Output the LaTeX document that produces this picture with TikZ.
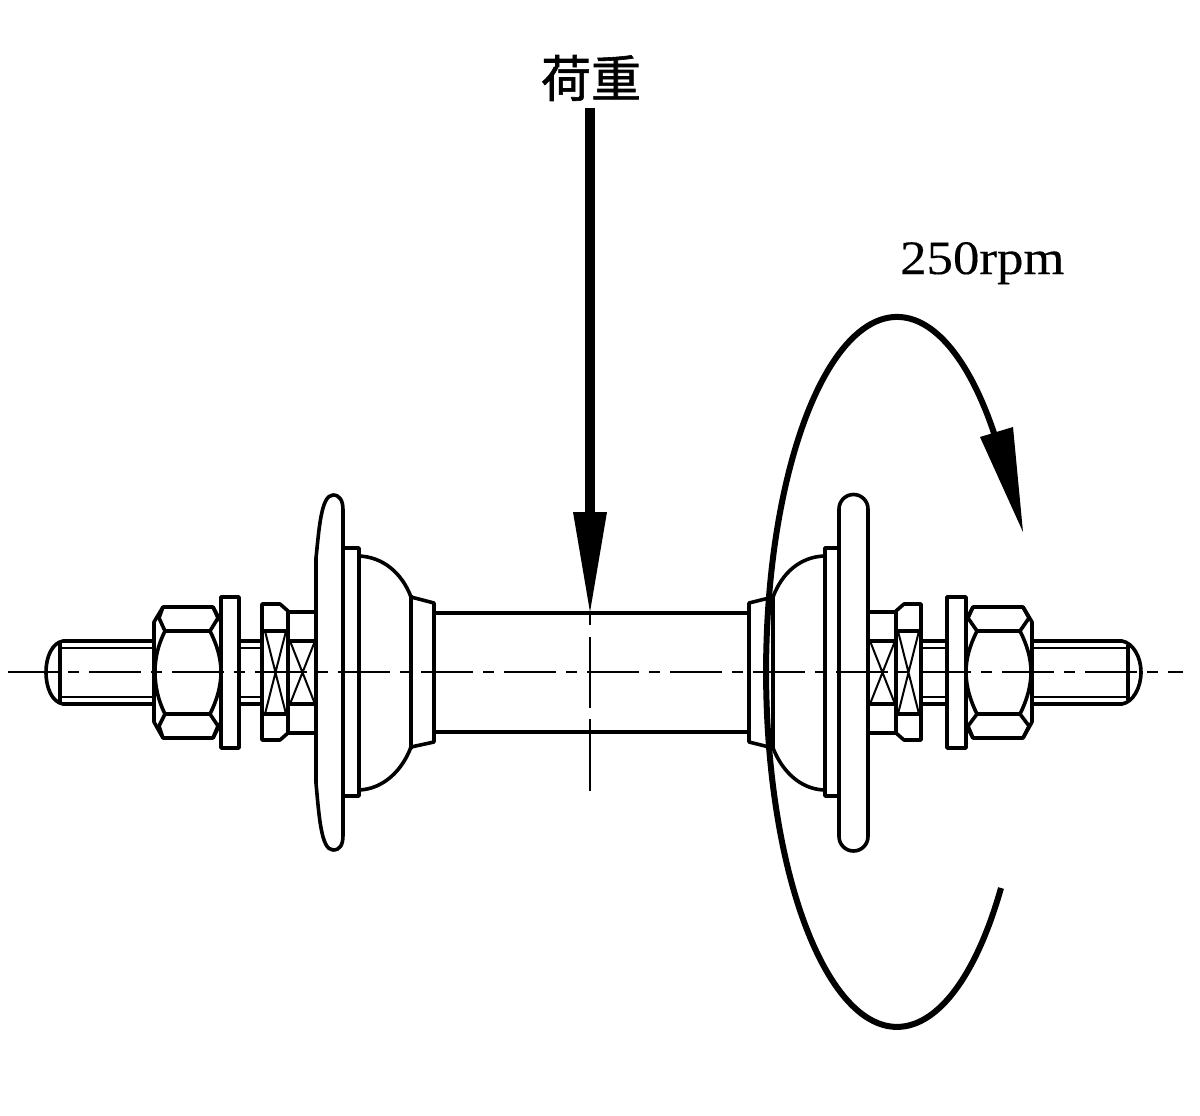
\documentclass[tikz,border=0pt]{standalone}
\usepackage{fontspec}
\setmainfont{Liberation Serif}
\newfontfamily\cjk[FakeBold=1.2]{Noto Sans CJK JP}
\newfontfamily\rpmfont[FakeStretch=1.1,FakeBold=0.25]{Liberation Serif}
\tikzset{
  part/.style={line width=3.6pt,line join=round,draw=black,fill=none},
  thread/.style={line width=2.6pt},
  thinx/.style={line width=2pt},
  center/.style={line width=2.3pt,dash pattern=on 52pt off 10pt on 11pt off 10pt,dash phase=2pt},
  cvert/.style={line width=2.3pt},
  rot/.style={line width=6pt},
  txtlabel/.style={inner sep=0pt,text=black}
}
\begin{document}
\begin{tikzpicture}[x=1pt,y=-1pt]
\useasboundingbox (0,0) rectangle (1200,1116);
\fill[white] (0,0) rectangle (1200,1116);
\coordinate (cl) at (8,672); \coordinate (cr) at (1183,672);
\draw[center] (cl) -- (cr);
% vertical centre line
\draw[cvert] (590,612) -- (590,625) (590,637) -- (590,708) (590,719) -- (590,791);
% tube
\draw[part] (434,613) -- (749,613) (434,732) -- (749,732);
% left hub
\draw[part] (411,595) -- (411,749) (411,597) -- (434,603) -- (434,742) -- (411,747);
\draw[part] (359,556) .. controls (383,557) and (402,573) .. (411,597);
\draw[part] (359,790) .. controls (383,789) and (402,771) .. (411,747);
\draw[part] (344,548) -- (359,548) -- (359,796) -- (344,796);
\draw[part] (316,558) .. controls (319,530) and (321,495) .. (333,495) .. controls (340,495) and (343,501) .. (343,510) -- (343,835) .. controls (343,845) and (340,850) .. (333,850) .. controls (321,850) and (319,815) .. (316,783) -- cycle;
% left spacer
\draw[part] (288,612) -- (316,612) (288,733) -- (316,733) (288,641) -- (316,641) (288,704) -- (316,704);
\draw[thinx] (290,641) -- (315,704) (315,641) -- (290,704);
% left nut 2
\draw[part] (262,604) -- (280,604) -- (288,611) -- (288,733) -- (280,740) -- (262,740) -- cycle;
\draw[part] (262,631) -- (288,631) (262,714) -- (288,714);
\draw[thinx] (265,631) -- (286,714) (286,631) -- (265,714);
% left shaft
\draw[part] (239,641) -- (262,641) (239,704) -- (262,704);
\draw[thread] (239,648) -- (262,648) (239,697) -- (262,697);
% left washer
\draw[part] (221,597) rectangle (239,748);
% left nut
\draw[part] (221,622) -- (213,607) -- (163,607) -- (154,622) -- (154,722) -- (163,738) -- (213,738) -- (221,722);
\draw[part] (163,607) -- (159,618) -- (165,631) -- (210,631) -- (218,618) -- (213,607);
\draw[part] (163,738) -- (159,726) -- (165,714) -- (210,714) -- (218,726) -- (213,738);
\draw[part] (165,631) .. controls (158,645) and (155,658) .. (155,672) .. controls (155,686) and (158,700) .. (165,714);
\draw[part] (210,631) .. controls (217,645) and (221,658) .. (221,672) .. controls (221,686) and (217,700) .. (210,714);
% left bolt
\draw[part] (154,641) -- (63,641) .. controls (52,643) and (46,657) .. (46,672) .. controls (46,688) and (52,702) .. (63,704) -- (154,704);
\draw[thread] (154,648) -- (60,648) (154,697) -- (60,697);
\draw[part] (60,643) -- (60,702);
% right hub
\draw[part] (773,597) -- (773,748) (773,597) -- (749,603) -- (749,742) -- (773,748);
\draw[part] (773,597) .. controls (782,573) and (800,557) .. (824,556);
\draw[part] (773,748) .. controls (782,771) and (800,789) .. (824,790);
\draw[part] (839,548) -- (825,548) -- (825,796) -- (839,796);
\draw[part] (839,509) arc[start angle=180,end angle=360,radius=14.5] -- (868,836.5) arc[start angle=0,end angle=180,radius=14.5] -- cycle;
% right spacer
\draw[part] (868,612) -- (896,612) (868,733) -- (896,733) (868,641) -- (896,641) (868,704) -- (896,704);
\draw[thinx] (870,641) -- (895,704) (895,641) -- (870,704);
% right nut 2
\draw[part] (921,604) -- (904,604) -- (896,611) -- (896,733) -- (904,740) -- (921,740) -- cycle;
\draw[part] (896,631) -- (921,631) (896,714) -- (921,714);
\draw[thinx] (898,631) -- (919,714) (919,631) -- (898,714);
% right shaft
\draw[part] (921,641) -- (947,641) (921,704) -- (947,704);
\draw[thread] (921,648) -- (947,648) (921,697) -- (947,697);
% right washer
\draw[part] (947,597) rectangle (966,748);
% right nut
\draw[part] (966,620) -- (973,607) -- (1023,607) -- (1032,622) -- (1032,722) -- (1023,738) -- (973,738) -- (966,725);
\draw[part] (973,607) -- (968,618) -- (977,631) -- (1020,631) -- (1029,618) -- (1023,607);
\draw[part] (973,738) -- (968,726) -- (977,714) -- (1020,714) -- (1029,726) -- (1023,738);
\draw[part] (977,631) .. controls (970,645) and (966,658) .. (966,672) .. controls (966,686) and (970,700) .. (977,714);
\draw[part] (1020,631) .. controls (1027,645) and (1031,658) .. (1031,672) .. controls (1031,686) and (1027,700) .. (1020,714);
% right bolt
\draw[part] (1032,641) -- (1122,641) .. controls (1133,643) and (1141,657) .. (1141,672) .. controls (1141,688) and (1133,702) .. (1122,704) -- (1032,704);
\draw[thread] (1032,648) -- (1128,648) (1032,697) -- (1128,697);
\draw[part] (1128,645) -- (1128,700);
% load arrow
\node[txtlabel,font=\cjk\fontsize{50}{50}\selectfont] (load) at (591,78) {荷重};
\coordinate (loadtip) at (590,612);
\coordinate (loadbase) at (590,512);
\draw[line width=10pt] (590,108) -- (loadbase);
\fill (573,512) -- (607,512) -- (loadtip) -- cycle;
% rotation arrow
\coordinate (rotstart) at (1001,888);
\draw[rot] (rotstart) arc[x radius=131,y radius=-355,start angle=-37.5,end angle=-319.5];
\fill (980,437) -- (1013,427) -- (1023,532) -- cycle;
\node[txtlabel,font=\rpmfont\fontsize{48}{48}\selectfont,anchor=base west] (rpm) at (900,274) {250rpm};
\end{tikzpicture}
\end{document}
